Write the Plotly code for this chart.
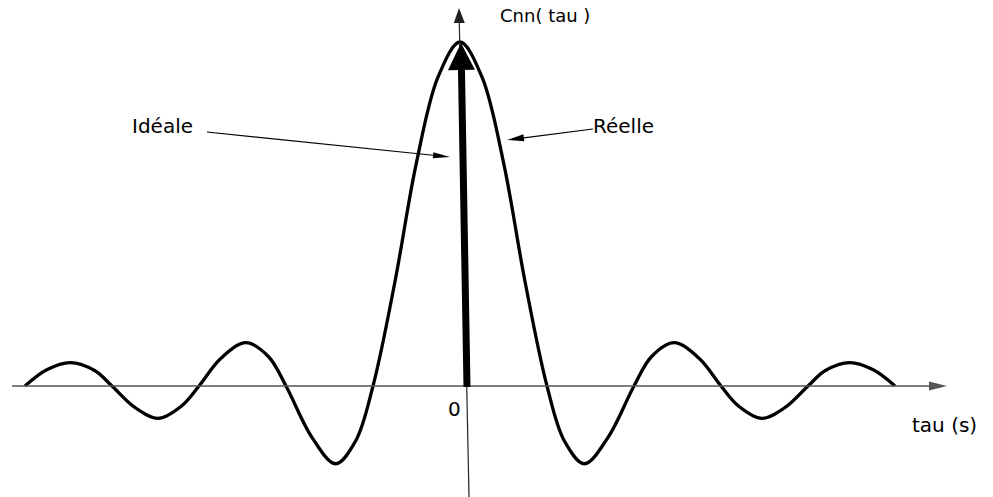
import math
import plotly.graph_objects as go

# Autocorrelation of the noise, real (sinc-shaped) response
tau_values = [-5.0, -4.75, -4.48, -4.2, -4.0, -3.75, -3.47, -3.2, -3.0, -2.75, -2.46, -2.2,
              -2.0, -1.7, -1.43, -1.2, -1.0, -0.75, -0.5, -0.25, 0.0,
              0.25, 0.5, 0.75, 1.0, 1.2, 1.43, 1.7, 2.0, 2.2, 2.46, 2.75,
              3.0, 3.2, 3.47, 3.75, 4.0, 4.2, 4.48, 4.75, 5.0]
cnn_real = [0.0, 0.047, 0.068, 0.045, 0.0, -0.06, -0.094, -0.058, 0.0, 0.08, 0.126, 0.085,
            0.0, -0.15, -0.226, -0.16, 0.0, 0.30, 0.65, 0.90, 1.0,
            0.90, 0.65, 0.30, 0.0, -0.16, -0.226, -0.15, 0.0, 0.085, 0.126, 0.08,
            0.0, -0.058, -0.094, -0.06, 0.0, 0.045, 0.068, 0.047, 0.0]

# Ideal response: a Dirac impulse at tau = 0
ideal_tau = 0.0
ideal_height = 1.0

axis_labels = {"x": "tau (s)", "y": "Cnn( tau )", "origin": "0"}
curve_labels = {"ideal": "Idéale", "real": "Réelle"}

W, H = 993, 497
X0_PX, Y0_PX = 460.0, 386.0     # pixel position of the origin
SX, SY = 87.0, 344.0            # pixels per unit of tau / of Cnn

x_range = [(0 - X0_PX) / SX, (W - X0_PX) / SX]
y_range = [(Y0_PX - H) / SY, (Y0_PX - 0) / SY]


def px(xp):
    return xp / W


def py(yp):
    return 1 - yp / H


def head_path(tip, tail, length, width):
    """Filled triangular arrow head, tip/tail given in page pixels."""
    dx, dy = tip[0] - tail[0], tip[1] - tail[1]
    n = math.hypot(dx, dy)
    ux, uy = dx / n, dy / n
    bx, by = tip[0] - length * ux, tip[1] - length * uy
    nx, ny = -uy, ux
    p1 = (bx + width / 2 * nx, by + width / 2 * ny)
    p2 = (bx - width / 2 * nx, by - width / 2 * ny)
    return (f"M{px(tip[0])},{py(tip[1])} L{px(p1[0])},{py(p1[1])} "
            f"L{px(p2[0])},{py(p2[1])} Z"), (bx, by)


shapes = []


def arrow(tail, tip, length, width, lw, color):
    path, base = head_path(tip, tail, length, width)
    shapes.append(dict(type="line", xref="paper", yref="paper",
                       x0=px(tail[0]), y0=py(tail[1]), x1=px(base[0]), y1=py(base[1]),
                       line=dict(color=color, width=lw)))
    shapes.append(dict(type="path", xref="paper", yref="paper", path=path,
                       fillcolor=color, line=dict(width=0)))


# coordinate axes
arrow((12, 386), (947, 386), 18, 9, 1.3, "#555555")
arrow((469, 497), (459, 8), 15, 11, 1.2, "#222222")

fig = go.Figure()

fig.add_trace(go.Scatter(
    x=tau_values, y=cnn_real, mode="lines",
    line=dict(color="black", width=3.3, shape="spline", smoothing=1.0),
    hoverinfo="skip", showlegend=False,
))

# Dirac impulse drawn as a thick arrow from the data
ideal_tip = (X0_PX + SX * ideal_tau + 1, Y0_PX - SY * ideal_height + 1)
arrow((X0_PX + SX * ideal_tau + 7, Y0_PX + 1), ideal_tip, 27, 27, 7, "black")

# pointer arrows for the labels
arrow((207, 132), (450, 157), 17, 6, 1.2, "black")
arrow((593, 129), (507, 140), 17, 7, 1.2, "black")

font = dict(family="DejaVu Sans, Liberation Sans, Arial", size=20, color="black")


def label(text, x_left, y_mid, size=20):
    return dict(text=text, xref="paper", yref="paper", x=px(x_left), y=py(y_mid),
                xanchor="left", yanchor="middle", showarrow=False,
                font=dict(font, size=size), borderpad=0, borderwidth=0)


annotations = [
    label(curve_labels["ideal"], 132, 126),
    label(curve_labels["real"], 593, 126),
    label(axis_labels["y"], 500, 16, 18),
    label(axis_labels["x"], 912, 425),
    label(axis_labels["origin"], 448, 409),
]

fig.update_layout(
    width=W, height=H,
    margin=dict(l=0, r=0, t=0, b=0),
    paper_bgcolor="white", plot_bgcolor="white",
    xaxis=dict(range=x_range, visible=False, fixedrange=True),
    yaxis=dict(range=y_range, visible=False, fixedrange=True),
    shapes=shapes,
    annotations=annotations,
)

fig.write_html("out.html")
